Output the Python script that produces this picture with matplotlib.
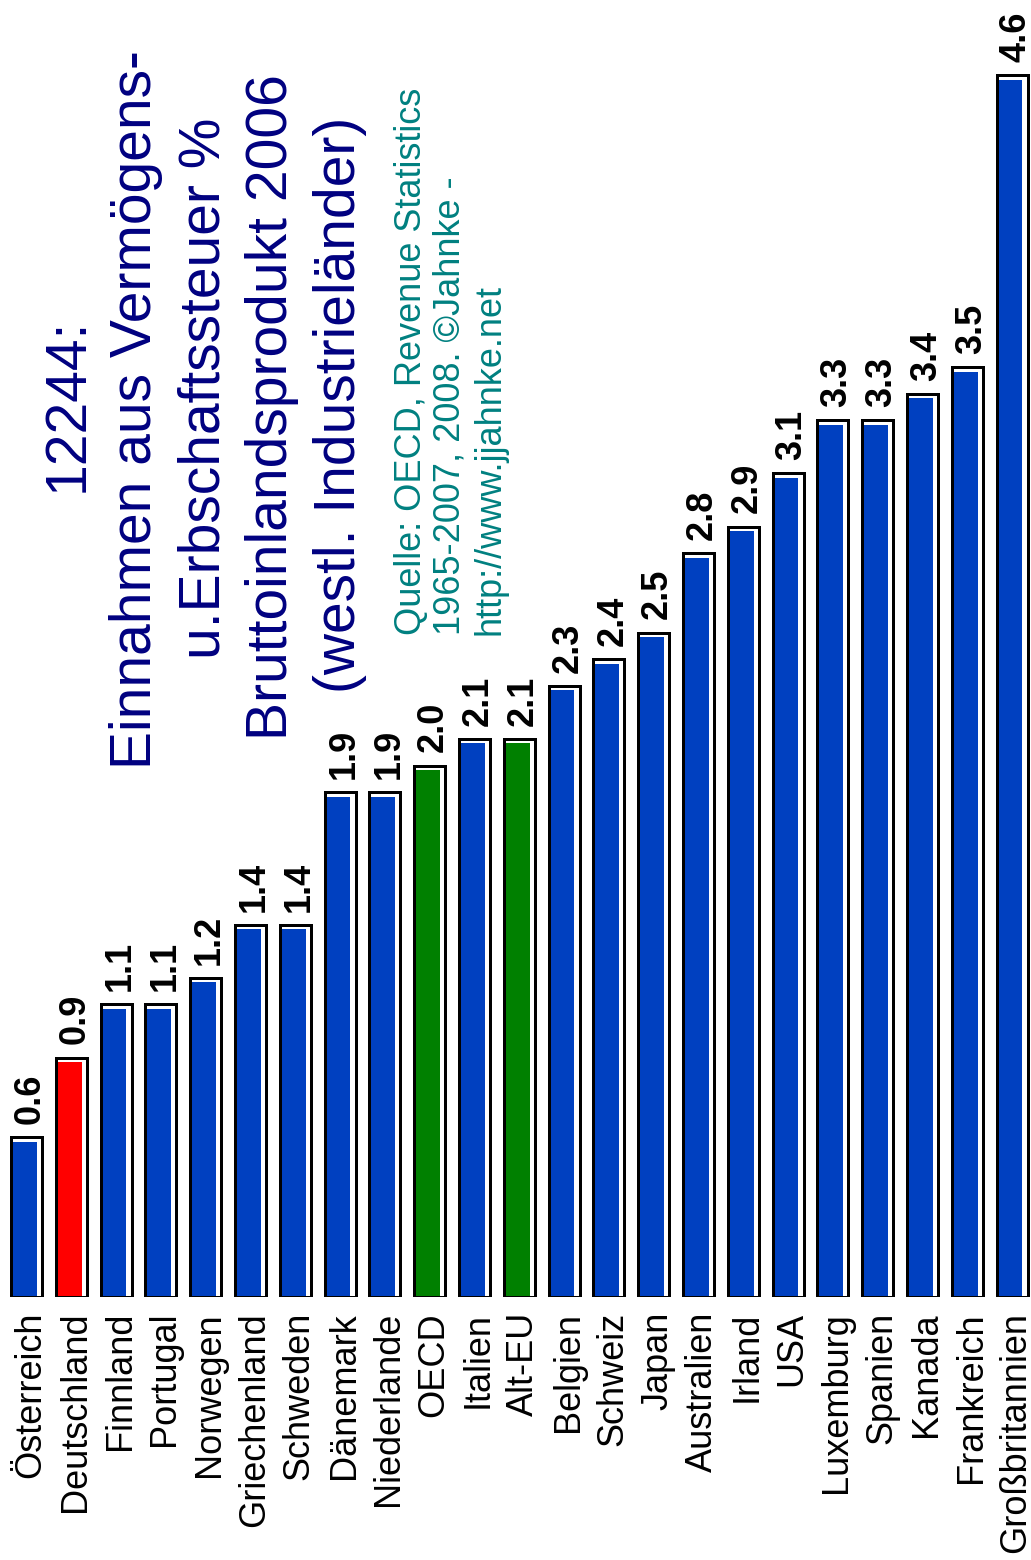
import matplotlib
matplotlib.use('Agg')
import matplotlib.pyplot as plt

plt.rcParams['font.family'] = ['Liberation Sans', 'DejaVu Sans']

categories = ['Österreich', 'Deutschland', 'Finnland', 'Portugal', 'Norwegen',
              'Griechenland', 'Schweden', 'Dänemark', 'Niederlande', 'OECD',
              'Italien', 'Alt-EU', 'Belgien', 'Schweiz', 'Japan', 'Australien',
              'Irland', 'USA', 'Luxemburg', 'Spanien', 'Kanada', 'Frankreich',
              'Großbritannien']
values = [0.6, 0.9, 1.1, 1.1, 1.2, 1.4, 1.4, 1.9, 1.9, 2.0, 2.1, 2.1, 2.3,
          2.4, 2.5, 2.8, 2.9, 3.1, 3.3, 3.3, 3.4, 3.5, 4.6]
highlight = {'Deutschland': '#ff0000', 'OECD': '#008000', 'Alt-EU': '#008000'}

title_lines = ['12244:', 'Einnahmen aus Vermögens-', 'u.Erbschaftssteuer %',
               'Bruttoinlandsprodukt 2006', '(westl. Industrieländer)']
source_lines = ['Quelle: OECD, Revenue Statistics',
                '1965-2007, 2008. ©Jahnke -',
                'http://www.jjahnke.net']

W, H = 1031, 1560
fig = plt.figure(figsize=(W / 100, H / 100), dpi=100)
base_px = 1296.5
ax = fig.add_axes([0, (H - base_px) / H, 1, base_px / H])
px_x = 44.8
px_y = 265.5
ax.set_xlim(-26.5 / px_x, (W - 26.5) / px_x)
ax.set_ylim(0, base_px / px_y)
ax.axis('off')

xs = list(range(len(categories)))
cols = [highlight.get(c, '#0040c0') for c in categories]

# outer white box, inner colored fill, then black frame on top
ax.bar(xs, values, width=0.69, color='white', linewidth=0)
ax.bar([x - 0.035 for x in xs], [v - 0.017 for v in values], bottom=0.0,
       width=0.53, color=cols, linewidth=0)
ax.bar(xs, values, width=0.69, facecolor='none', edgecolor='black',
       linewidth=2.16)

for x, v, c in zip(xs, values, categories):
    ax.text(x + 0.3, v + 0.05, '%.1f' % v, rotation=90, rotation_mode='anchor',
            ha='left', va='baseline', fontsize=26, fontweight='bold',
            color='black')
    ax.text(x + 0.3, -0.058, c, rotation=90, rotation_mode='anchor',
            ha='right', va='baseline', fontsize=26, color='black',
            clip_on=False)

title_x = [83, 151, 219, 287, 355]
title_y = [405, 410, 388, 407, 405]
for line, tx, ty in zip(title_lines, title_x, title_y):
    fig.text(tx / W, (H - ty) / H, line, rotation=90, rotation_mode='anchor',
             ha='center', va='baseline', fontsize=41, color='#000080')

source_x = [421, 460, 499]
for line, sx in zip(source_lines, source_x):
    fig.text(sx / W, (H - 635) / H, line, rotation=90, rotation_mode='anchor',
             ha='left', va='baseline', fontsize=26, color='#008080')

fig.savefig('out.png', dpi=100)
